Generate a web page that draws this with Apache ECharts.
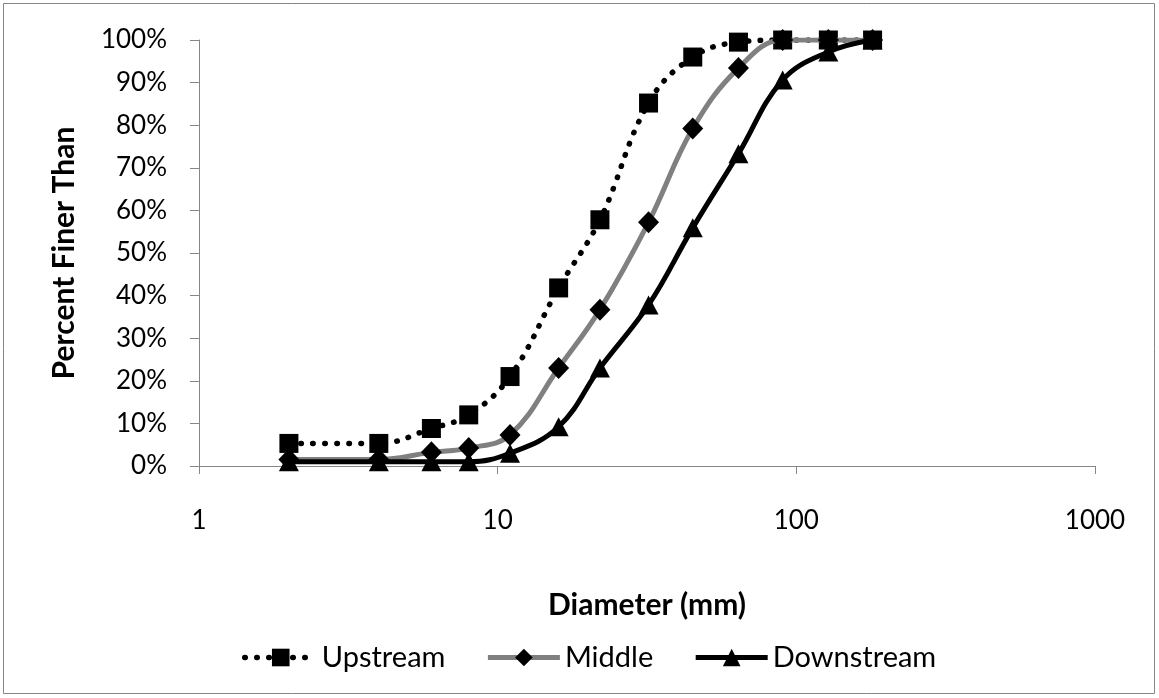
<!DOCTYPE html>
<html>
<head>
<meta charset="utf-8">
<script src="https://cdn.jsdelivr.net/npm/echarts@6/dist/echarts.min.js"></script>
<style>
  html, body { margin: 0; padding: 0; background: #fff; }
  #chart { width: 1159px; height: 698px; }
</style>
</head>
<body>
<div id="chart"></div>
<script>
// Sieve diameters (mm) and cumulative percent passing for each reach
const diameters = [2, 4, 6, 8, 11, 16, 22, 32, 45, 64, 90, 128, 180];
const upstream   = [5.3, 5.3, 8.8, 12, 21, 41.8, 57.8, 85.2, 96, 99.5, 100, 100, 100];
const middle     = [1.5, 1.5, 3.2, 4.2, 7.3, 23, 36.7, 57.2, 79.2, 93.4, 100, 100, 100];
const downstream = [1, 1, 1, 1, 3, 9.2, 23, 37.8, 55.9, 73.3, 90.6, 97.2, 100];
const seriesNames = ['Upstream', 'Middle', 'Downstream'];

const FONT = 'Lato, "Open Sans", sans-serif';
const AXIS_GREY = '#868686';

const pairs = ys => diameters.map((d, i) => [d, ys[i]]);

const chart = echarts.init(document.getElementById('chart'), null, { renderer: 'canvas' });

chart.setOption({
  animation: false,
  backgroundColor: '#ffffff',
  textStyle: { fontFamily: FONT },
  graphic: [{
    type: 'rect',
    shape: { x: 3.5, y: 3.5, width: 1151, height: 690 },
    style: { fill: 'none', stroke: AXIS_GREY, lineWidth: 1 },
    silent: true
  }],
  grid: { left: 199, right: 64, top: 40, bottom: 232, containLabel: false },
  legend: {
    data: seriesNames,
    top: 638,
    left: 237,
    itemWidth: 72,
    itemHeight: 22,
    itemGap: 40,
    lineStyle: { width: 'inherit' },
    textStyle: { fontFamily: FONT, fontSize: 29, color: '#000' }
  },
  xAxis: {
    type: 'log',
    logBase: 10,
    min: 1,
    max: 1000,
    name: 'Diameter (mm)',
    nameLocation: 'middle',
    nameGap: 124,
    nameTextStyle: { fontFamily: FONT, fontSize: 30, fontWeight: 'bold', color: '#000' },
    axisLine: { show: true, lineStyle: { color: AXIS_GREY, width: 1 } },
    axisTick: { show: true, inside: false, length: 8, lineStyle: { color: AXIS_GREY } },
    minorTick: { show: false },
    splitLine: { show: false },
    axisLabel: {
      margin: 42, fontFamily: FONT, fontSize: 26, color: '#000',
      formatter: v => String(Math.round(v))
    }
  },
  yAxis: {
    type: 'value',
    min: 0,
    max: 100,
    interval: 10,
    name: 'Percent Finer Than',
    nameLocation: 'middle',
    nameGap: 120,
    nameTextStyle: { fontFamily: FONT, fontSize: 30, fontWeight: 'bold', color: '#000' },
    axisLine: { show: true, lineStyle: { color: AXIS_GREY, width: 1 } },
    axisTick: { show: true, inside: false, length: 9, lineStyle: { color: AXIS_GREY } },
    splitLine: { show: false },
    axisLabel: { margin: 32, fontFamily: FONT, fontSize: 26, color: '#000', formatter: '{value}%' }
  },
  series: [
    {
      name: seriesNames[0],
      type: 'line',
      data: pairs(upstream),
      smooth: 0.4,
      symbol: 'rect',
      symbolSize: 19,
      itemStyle: { color: '#000' },
      lineStyle: { color: '#000', width: 5.5, type: [0.5, 11.5], cap: 'round' },
      z: 2
    },
    {
      name: seriesNames[1],
      type: 'line',
      data: pairs(middle),
      smooth: 0.4,
      symbol: 'diamond',
      symbolSize: [21, 22],
      itemStyle: { color: '#000' },
      lineStyle: { color: '#808080', width: 5 },
      z: 3
    },
    {
      name: seriesNames[2],
      type: 'line',
      data: pairs(downstream),
      smooth: 0.4,
      symbol: 'triangle',
      symbolSize: [20, 19],
      itemStyle: { color: '#000' },
      lineStyle: { color: '#000', width: 5 },
      z: 4
    }
  ]
});
</script>
</body>
</html>
